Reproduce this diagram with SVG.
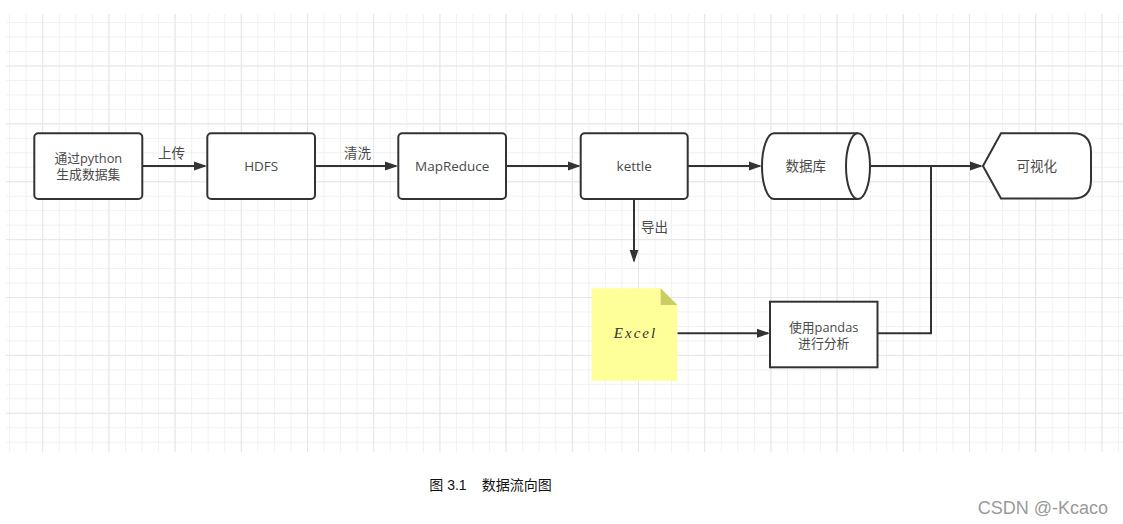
<svg xmlns="http://www.w3.org/2000/svg" width="1123" height="524" viewBox="0 0 1123 524">
<style>
.box{fill:#fff;stroke:#333;stroke-width:2}
.lbl{font-family:"Open Sans","Noto Sans CJK SC",sans-serif;font-size:13.5px;fill:#4a4a4a;text-anchor:middle}
.lbl2{font-family:"Open Sans","Noto Sans CJK SC",sans-serif;font-size:12.8px;fill:#4a4a4a;text-anchor:middle}
.edge{fill:none;stroke:#333;stroke-width:2}
.elbl{font-family:"Open Sans","Noto Sans CJK SC",sans-serif;font-size:13.5px;fill:#4a4a4a}
</style>
<defs>
<pattern id="minor" patternUnits="userSpaceOnUse" x="42.2" y="65.5" width="16.55" height="14.47">
<rect width="1" height="14.47" fill="#f1f1f1"/><rect width="16.55" height="1" fill="#f1f1f1"/>
</pattern>
<pattern id="major" patternUnits="userSpaceOnUse" x="42.2" y="65.5" width="66.2" height="57.88">
<rect width="1" height="57.88" fill="#e6e6e6"/><rect width="66.2" height="1" fill="#e6e6e6"/>
</pattern>
<marker id="arr" markerUnits="userSpaceOnUse" markerWidth="14" markerHeight="10" refX="11" refY="5" orient="auto">
<path d="M0,0.5 L13,5 L0,9.5 Z" fill="#333"/>
</marker>
</defs>
<rect width="1123" height="524" fill="#fff"/>
<g id="grid">
<rect x="6" y="14" width="1117" height="438" fill="url(#minor)"/>
<rect x="6" y="14" width="1117" height="438" fill="url(#major)"/>
</g>
<g id="connectors">
<path class="edge" d="M142,166 H205" marker-end="url(#arr)"/>
<path class="edge" d="M315,166 H396" marker-end="url(#arr)"/>
<path class="edge" d="M506,166 H578.7" marker-end="url(#arr)"/>
<path class="edge" d="M687.7,166 H759.7" marker-end="url(#arr)"/>
<path class="edge" d="M634,199 V260.7" marker-end="url(#arr)"/>
<path class="edge" d="M870,166 H981" marker-end="url(#arr)"/>
<path class="edge" d="M677.3,333.3 H768" marker-end="url(#arr)"/>
<path class="edge" d="M877.5,333.3 H931 V166"/>
<text class="elbl" x="158" y="157.5">上传</text>
<text class="elbl" x="344" y="158">清洗</text>
<text class="elbl" x="641" y="231.5">导出</text>
</g>
<g id="n-python">
<rect class="box" x="34.3" y="133.3" width="108" height="65.7" rx="4"/>
<text class="lbl2" x="88.3" y="162.5">通过python</text>
<text class="lbl2" x="88.3" y="178.5">生成数据集</text>
</g>
<g id="n-hdfs">
<rect class="box" x="207.3" y="133.3" width="107.7" height="65.7" rx="4"/>
<text class="lbl" x="261.2" y="171">HDFS</text>
</g>
<g id="n-mapreduce">
<rect class="box" x="398.3" y="133.3" width="107.7" height="65.7" rx="4"/>
<text class="lbl" x="452.2" y="171">MapReduce</text>
</g>
<g id="n-kettle">
<rect class="box" x="580.7" y="133.3" width="107" height="65.7" rx="4"/>
<text class="lbl" x="634.2" y="171">kettle</text>
</g>
<g id="n-db">
<path class="box" d="M774,133.3 H858 A12,32.85 0 0 1 858,199 H774 A12,32.85 0 0 1 774,133.3 Z"/>
<path class="box" d="M858,133.3 A12,32.85 0 0 0 858,199" fill="none"/>
<text class="lbl" x="805.7" y="171">数据库</text>
</g>
<g id="n-vis">
<path class="box" d="M1001,133.3 H1073 Q1091,133.3 1091,152 V180 Q1091,198.5 1073,198.5 H1001 L983,166 Z"/>
<text class="lbl" x="1036.7" y="171">可视化</text>
</g>
<g id="n-excel">
<path d="M591.7,288.3 H660.7 L677.3,305 V380.7 H591.7 Z" fill="#ffff99"/>
<path d="M660.7,288.3 L677.3,305 H660.7 Z" fill="#cccc66"/>
<text x="634.5" y="338" font-family="Liberation Serif, serif" font-style="italic" font-size="15" fill="#333" text-anchor="middle" textLength="41.5" lengthAdjust="spacing">Excel</text>
</g>
<g id="n-pandas">
<rect class="box" x="770" y="301.7" width="107.5" height="65.6"/>
<text class="lbl2" x="823.7" y="331.5">使用pandas</text>
<text class="lbl2" x="823.7" y="347.5">进行分析</text>
</g>
<text x="429.3" y="490" font-family="'Liberation Sans','Noto Sans CJK SC',sans-serif" font-size="14" fill="#111">图 3.1<tspan x="481.7">数据流向图</tspan></text>
<text x="977.7" y="513.5" font-family="'Liberation Sans',sans-serif" font-size="18" fill="#9a9a9a">CSDN @-Kcaco</text>
</svg>
